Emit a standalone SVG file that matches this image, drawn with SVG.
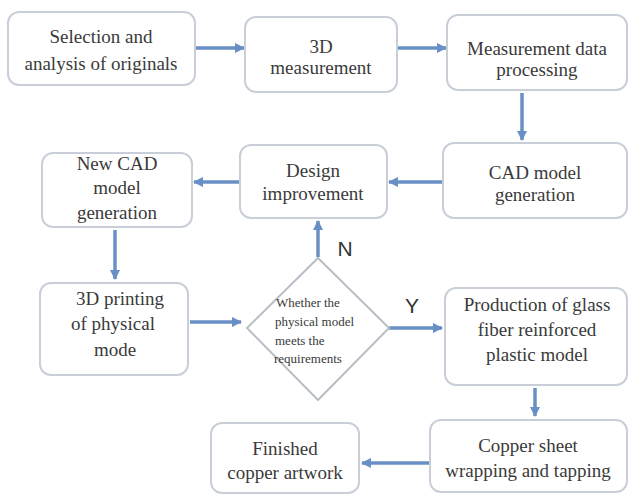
<svg xmlns="http://www.w3.org/2000/svg" width="631" height="495" viewBox="0 0 631 495">
<defs>
<style>
.box{fill:#ffffff;stroke:#c9cfd8;stroke-width:2}
.t{font-family:"Liberation Serif","Times New Roman",serif;font-size:19px;fill:#3a3a3a;text-anchor:middle}
.ts{font-family:"Liberation Serif","Times New Roman",serif;font-size:13px;fill:#3a3a3a}
.lbl{font-family:"Liberation Sans",Arial,sans-serif;font-size:21px;fill:#333333;text-anchor:middle}
.c{stroke:#6890c6;stroke-width:3.5;fill:none;marker-end:url(#ah)}
</style>
<marker id="ah" viewBox="0 0 10 10" refX="9" refY="5" markerWidth="3" markerHeight="3" orient="auto" markerUnits="strokeWidth">
<path d="M0,0 L10,5 L0,10 z" fill="#6890c6"/>
</marker>
</defs>
<rect width="631" height="495" fill="#ffffff"/>
<g id="connectors">
<line class="c" x1="195" y1="48" x2="244" y2="48"/>
<line class="c" x1="397" y1="48" x2="446" y2="48"/>
<line class="c" x1="522" y1="93" x2="522" y2="140"/>
<line class="c" x1="443" y1="182" x2="389" y2="182"/>
<line class="c" x1="240" y1="182" x2="194" y2="182"/>
<line class="c" x1="115" y1="230" x2="115" y2="279"/>
<line class="c" x1="190" y1="322" x2="241" y2="322"/>
<line class="c" x1="389" y1="328" x2="442" y2="328"/>
<line class="c" x1="318" y1="257" x2="318" y2="221"/>
<line class="c" x1="535" y1="388" x2="535" y2="416"/>
<line class="c" x1="430" y1="463" x2="362" y2="463"/>
</g>
<g id="n1"><rect class="box" x="8" y="12" width="187" height="73" rx="11"/>
<text class="t" x="101" y="43">Selection and</text><text class="t" x="101" y="70">analysis of originals</text></g>
<g id="n2"><rect class="box" x="245" y="17" width="152" height="75" rx="11"/>
<text class="t" x="321" y="53">3D</text><text class="t" x="321" y="74">measurement</text></g>
<g id="n3"><rect class="box" x="447" y="15" width="180" height="75" rx="11"/>
<text class="t" x="537" y="55">Measurement data</text><text class="t" x="537" y="76">processing</text></g>
<g id="n4"><rect class="box" x="443" y="143" width="184" height="75" rx="11"/>
<text class="t" x="535" y="179">CAD model</text><text class="t" x="535" y="201">generation</text></g>
<g id="n5"><rect class="box" x="240" y="145" width="147" height="73" rx="11"/>
<text class="t" x="313" y="177">Design</text><text class="t" x="313" y="200">improvement</text></g>
<g id="n6"><rect class="box" x="42" y="153" width="150" height="74" rx="11"/>
<text class="t" x="117" y="170">New CAD</text><text class="t" x="117" y="194">model</text><text class="t" x="117" y="219">generation</text></g>
<g id="n7"><rect class="box" x="40" y="283" width="148" height="92" rx="11"/>
<text class="t" x="120" y="305">3D printing</text><text class="t" x="113" y="330">of physical</text><text class="t" x="115" y="356">mode</text></g>
<g id="n8"><rect class="box" x="445" y="288" width="182" height="97" rx="11"/>
<text class="t" x="537" y="311">Production of glass</text><text class="t" x="537" y="336">fiber reinforced</text><text class="t" x="537" y="361">plastic model</text></g>
<g id="n9"><rect class="box" x="430" y="420" width="197" height="72" rx="11"/>
<text class="t" x="528" y="452">Copper sheet</text><text class="t" x="528" y="477">wrapping and tapping</text></g>
<g id="n10"><rect class="box" x="211" y="423" width="148" height="70" rx="11"/>
<text class="t" x="285" y="455">Finished</text><text class="t" x="285" y="479">copper artwork</text></g>
<g id="n11"><polygon points="318,258 389,328 318,400 247,328" fill="#ffffff" stroke="#b9bec6" stroke-width="2"/>
<text class="ts" x="276" y="307">Whether the</text><text class="ts" x="275" y="326">physical model</text><text class="ts" x="275" y="345">meets the</text><text class="ts" x="274" y="363">requirements</text></g>
<g id="labels"><text class="lbl" x="345" y="256">N</text><text class="lbl" x="412" y="313">Y</text></g>
</svg>
